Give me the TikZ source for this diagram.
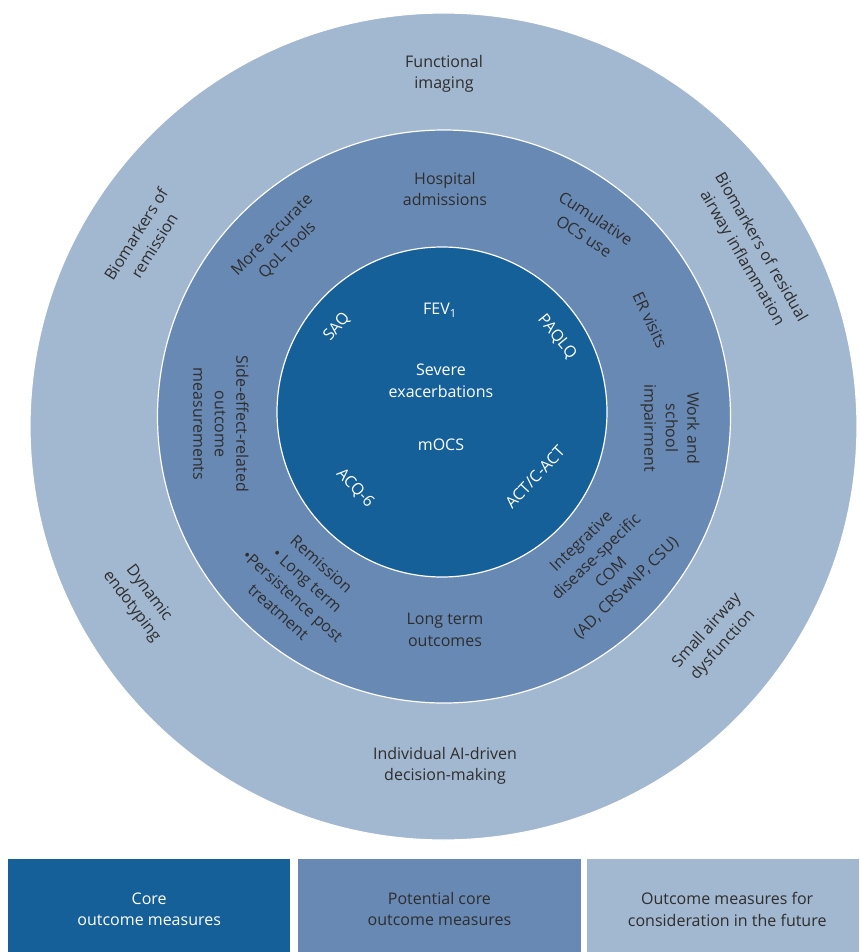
\documentclass[tikz,border=0pt]{standalone}
\usepackage{fontspec}
\setmainfont{Open Sans}
\definecolor{corebl}{HTML}{16609A}
\definecolor{potbl}{HTML}{6889B4}
\definecolor{futbl}{HTML}{A2B7D0}
\definecolor{txtgr}{HTML}{2E2E2E}
\begin{document}
\begin{tikzpicture}[x = 1pt, y = -1pt]
		\tikzstyle{every node} = [font = \fontsize{16}{21.5}\selectfont, align = center, inner sep = 0pt]
		\tikzstyle{dark} = [text = txtgr]
		\tikzstyle{light} = [text = white]
		\tikzstyle{legbox} = [minimum height = 93pt, anchor = north west]
		\useasboundingbox (0,0) rectangle (859,952);
		% rings, outer to inner
		\foreach \cx/\cy/\r/\c in {443.5/426.5/413.5/futbl, 444/416.5/286.5/potbl, 442/412/165/corebl}
		{
			\fill [\c, draw = white, line width = 1.2pt] (\cx,\cy) circle (\r pt);
		}
		% outer ring
		\node [dark] (fimg) at (444,74) {Functional\\imaging};
		\node [dark, rotate = 58] (bremis) at (145,240) {Biomarkers of\\remission};
		\node [dark, rotate = -60] (bresid) at (751,253) {Biomarkers of residual\\airway inflammation};
		\node [dark, rotate = -53] (dynend) at (140,600) {Dynamic\\endotyping};
		\node [dark, rotate = 48] (smallaw) at (715,638) {Small airway\\dysfunction};
		\node [dark] (aidec) at (445,766) {Individual AI-driven\\decision-making};
		% middle ring
		\node [dark] (hosp) at (445,189) {Hospital\\admissions};
		\node [dark, rotate = 45] (qol) at (280,243) {More accurate\\QoL Tools};
		\node [dark, rotate = -33] (ocs) at (590,227) {Cumulative\\OCS use};
		\node [dark, rotate = -65] (er) at (650,320) {ER visits};
		\node [dark, rotate = -90] (work) at (670,428) {Work and\\school\\impairment};
		\node [dark, rotate = -90] (side) at (221,424) {Side-effect-related\\outcome\\measurements};
		\node [dark, rotate = -42] (remis) at (300,588) {Remission\\\textbullet\ Long term\\\textbullet Persistence post\\treatment};
		\node [dark] (longt) at (445,630) {Long term\\outcomes};
		\node [dark, rotate = 44] (integ) at (604,565) {Integrative\\disease-specific\\COM\\(AD, CRSwNP, CSU)};
		% inner circle
		\node [light] (fev) at (440,310) {FEV\textsubscript{1}};
		\node [light, rotate = 50] (saq) at (337,327) {SAQ};
		\node [light, rotate = -51] (paqlq) at (557,337) {PAQLQ};
		\node [light] (sevex) at (441,381) {Severe\\exacerbations};
		\node [light] (mocs) at (441,445) {mOCS};
		\node [light, rotate = -47] (acq) at (355,488) {ACQ-6};
		\node [light, rotate = 47] (act) at (535,477) {ACT/C-ACT};
		% legend
		\node [legbox, fill = corebl, minimum width = 282pt] (kcore) at (8,859) {};
		\node [legbox, fill = potbl, minimum width = 283.5pt] (kpot) at (297.5,859) {};
		\node [legbox, fill = futbl, minimum width = 272pt] (kfut) at (587,859) {};
		\node [light] (tcore) at ([yshift = -3.5pt]kcore.center) {Core\\outcome measures};
		\node [dark] (tpot) at ([yshift = -3.5pt]kpot.center) {Potential core\\outcome measures};
		\node [dark] (tfut) at ([yshift = -3.5pt, xshift = 4pt]kfut.center) {Outcome measures for\\consideration in the future};
\end{tikzpicture}
\end{document}
